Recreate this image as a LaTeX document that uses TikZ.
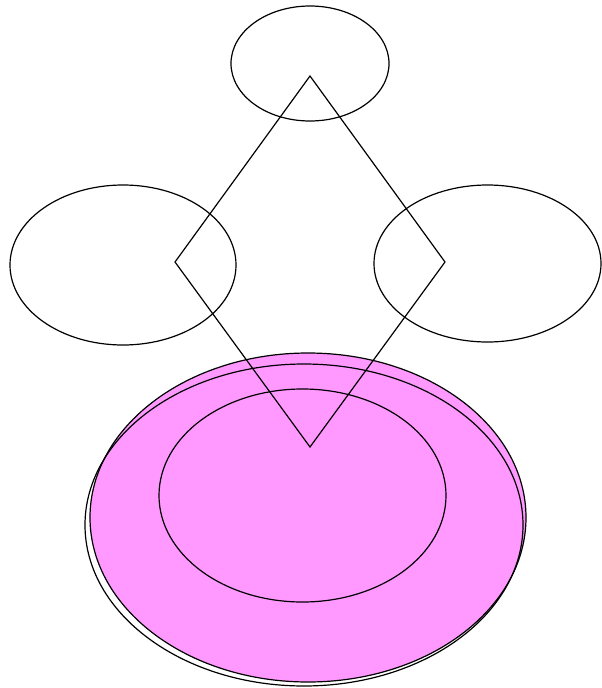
\documentclass[tikz,border=0pt]{standalone}
\usetikzlibrary{shapes.geometric}
\definecolor{pinkfill}{HTML}{FF99FF}
\tikzset{
  ell/.style={draw=black, ellipse, inner sep=0pt, line width=1.2pt},
  diam/.style={draw=black, line width=1.2pt, line join=miter}
}
\begin{document}
\begin{tikzpicture}[x=1pt,y=-1pt]
\useasboundingbox (0,0) rectangle (602,688);
% top, left, right ellipses
\node[ell, minimum width=158pt, minimum height=115pt] (top) at (310,63.5) {};
\node[ell, minimum width=226pt, minimum height=160pt] (left) at (123,265) {};
\node[ell, minimum width=227pt, minimum height=157pt] (right) at (487.5,263.5) {};
% bottom group
\node[ell, fill=pinkfill, minimum width=436pt, minimum height=329pt] (pink) at (308,517.5) {};
\node[ell, minimum width=438pt, minimum height=322pt] (outer) at (304,525) {};
\node[ell, minimum width=287pt, minimum height=213pt] (inner) at (302.5,495.5) {};
% diamond
\coordinate (dt) at (310,76);
\coordinate (dr) at (445,262);
\coordinate (db) at (310,447);
\coordinate (dl) at (175,262);
\draw[diam] (dt) -- (dr) -- (db) -- (dl) -- cycle;
\end{tikzpicture}
\end{document}
